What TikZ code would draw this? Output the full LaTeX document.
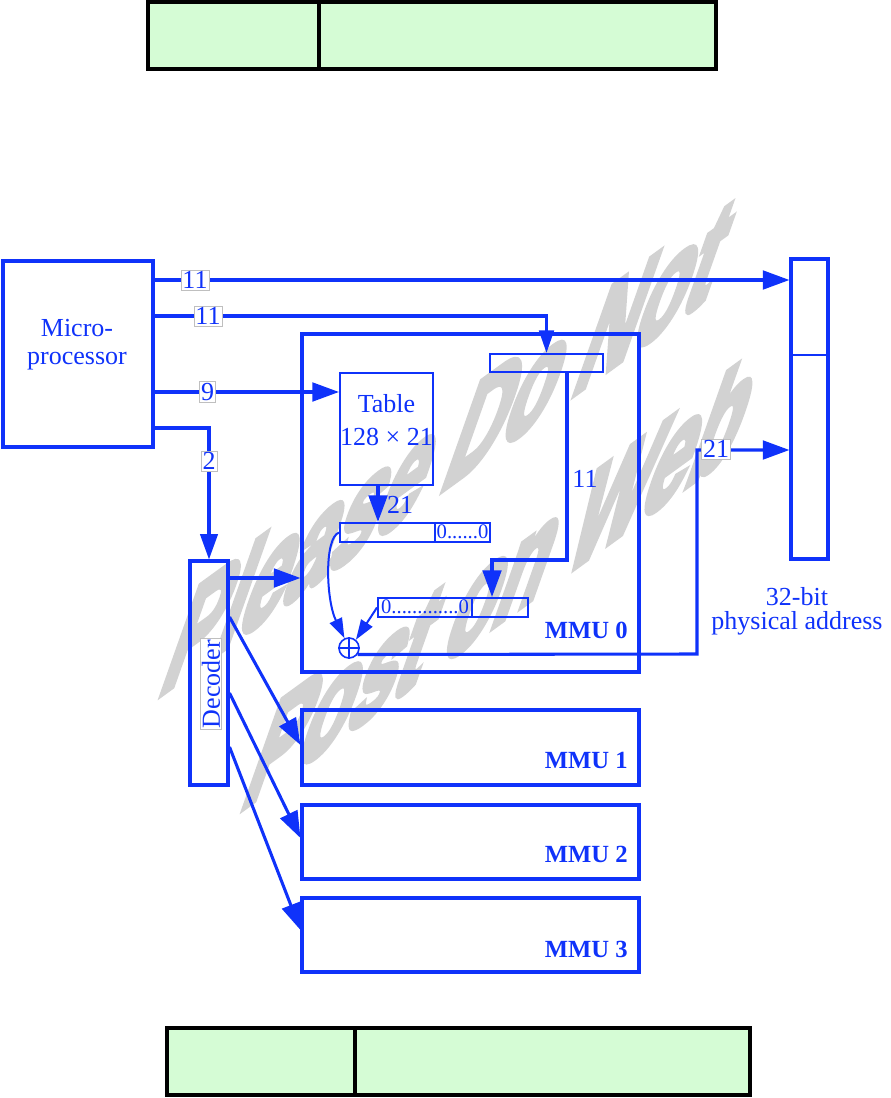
\documentclass[tikz,border=0pt]{standalone}
\usepackage{fontspec}
\setmainfont{Liberation Serif}
\newfontfamily\wmfont{Liberation Sans Bold}[FakeBold=6]
\usetikzlibrary{arrows.meta,calc}
\definecolor{bl}{RGB}{15,50,250}
\definecolor{wmc}{RGB}{210,210,210}
\definecolor{tgreen}{RGB}{213,252,213}
\tikzset{
 bx/.style={draw=bl, line width=2.3pt, inner sep=0pt},
 thinbx/.style={draw=bl, line width=1.5pt, inner sep=0pt},
 conn/.style={draw=bl, line width=2.3pt},
 thinconn/.style={draw=bl, line width=1.5pt},
 arr/.style={-{Triangle[length=20pt,width=14pt]}},
 arrsm/.style={-{Triangle[length=15pt,width=10pt]}},
 txt/.style={text=bl, inner sep=0pt},
 lab/.style={text=bl, fill=white, draw=black!25, line width=0.4pt, inner sep=1.2pt},
 tbl/.style={draw=black, line width=3pt, fill=tgreen, inner sep=0pt},
 mmulab/.style={text=bl, inner sep=0pt, anchor=base east, font=\fontsize{18.5}{20}\selectfont\bfseries},
 wmark/.style={text=wmc, inner sep=0pt, anchor=base west,
   font=\wmfont\fontsize{78}{80}\selectfont,
   cm={0.785,0.57,0.53,1.5,(0,0)}},
}
\begin{document}
\begin{tikzpicture}[x=0.75pt,y=-0.75pt,font=\fontsize{19.5}{21}\selectfont]
\useasboundingbox (0,0) rectangle (890,1098);

% watermark
\node[wmark] (wm1) at (156,698) {Please Do Not};
\node[wmark] (wm2) at (238,812) {Post on Web};

% title tables
\node[tbl, minimum width=426pt, minimum height=50.25pt] (t1) at (432,35.5) {};
\draw[line width=3pt] (t1.north -| 319,0) -- (t1.south -| 319,0);
\node[tbl, minimum width=437.25pt, minimum height=50.25pt] (t2) at (458.5,1061.5) {};
\draw[line width=3pt] (t2.north -| 355,0) -- (t2.south -| 355,0);

% boxes
\node[bx, minimum width=112.5pt, minimum height=139.5pt] (micro) at (78,354) {};
\node[txt, align=center] (microtxt) at (77,345) {Micro-\\processor};

\node[bx, minimum width=252.75pt, minimum height=253.5pt] (mmu0) at (470.5,503) {};
\node[bx, minimum width=252.75pt, minimum height=56.25pt] (mmu1) at (470.5,747.5) {};
\node[bx, minimum width=252.75pt, minimum height=55.5pt] (mmu2) at (470.5,842) {};
\node[bx, minimum width=252.75pt, minimum height=55.5pt] (mmu3) at (470.5,935) {};
\node[mmulab] (l0) at (628,638) {MMU 0};
\node[mmulab] (l1) at (628,768) {MMU 1};
\node[mmulab] (l2) at (628,862) {MMU 2};
\node[mmulab] (l3) at (628,957) {MMU 3};

\node[bx, minimum width=27.75pt, minimum height=225pt] (phys) at (809.5,409) {};
\draw[bl, line width=1pt] (phys.west |- 0,355) -- (phys.east |- 0,355);
\node[txt, align=center, font=\fontsize{19.5}{18}\selectfont] (ptxt) at (797,611) {32-bit\\physical address};

\node[bx, minimum width=28.5pt, minimum height=168pt] (dec) at (209,673) {};

\node[thinbx, minimum width=69.75pt, minimum height=84pt] (table) at (386.5,429) {};
\node[txt] (tt1) at (386.5,404) {Table};
\node[txt] (tt2) at (386.5,437) {128 × 21};

\node[thinbx, minimum width=84.75pt, minimum height=13.5pt] (reg0) at (546.5,363) {};
\node[thinbx, minimum width=112.5pt, minimum height=14.25pt] (reg1) at (415,532.5) {};
\draw[bl, line width=1.5pt] (reg1.north -| 435,0) -- (reg1.south -| 435,0);
\node[txt, font=\fontsize{15.5}{15}\selectfont] (z1) at (462.5,531.5) {0......0};
\node[thinbx, minimum width=112.5pt, minimum height=14.25pt] (reg2) at (453,607.5) {};
\draw[bl, line width=1.5pt] (reg2.north -| 472,0) -- (reg2.south -| 472,0);
\node[txt, font=\fontsize{15.5}{15}\selectfont] (z2) at (425,606.5) {0.............0};

\node[draw=bl, line width=1.2pt, circle, minimum size=15pt, inner sep=0pt] (plus) at (349,648) {};
\draw[bl, line width=0.8pt] (plus.north) -- (plus.south);
\draw[bl, line width=0.8pt] (plus.west) -- (plus.east);

% connectors
\draw[conn, arr] (micro.east |- 0,280) -- (phys.west |- 0,280);
\draw[conn, -{Triangle[length=17pt,width=11pt]}] (micro.east |- 0,316) -| (reg0.north);
\draw[conn, arr] (micro.east |- 0,392) -- (table.west |- 0,392);
\draw[conn, -{Triangle[length=19pt,width=13pt]}] (micro.east |- 0,428) -| (dec.north);
\draw[conn, arr] (table.south -| 378,0) -- (reg1.north -| 378,0);
\coordinate (b1) at (567,560);
\draw[conn, arr] (reg0.south -| b1) -- (b1) -| (reg2.north -| 492,0);
\draw[thinconn, arrsm] (reg1.west) .. controls (324,538) and (326,600) .. (plus.115);
\draw[thinconn, arrsm] (reg2.west) -- (plus.50);
\coordinate (b2) at (697,654);
\draw[conn, arr] (plus.-37) -- (b2) |- (phys.west |- 0,450);

\draw[conn, arr] (dec.east |- 0,578) -- (mmu0.west |- 0,578);
\draw[conn, arr] (dec.east |- 0,617) -- (mmu1.west |- 0,745);
\draw[conn, arr] (dec.east |- 0,693) -- (mmu2.west |- 0,838);
\draw[conn, arr] (dec.east |- 0,747) -- (mmu3.west |- 0,930);

% labels
\node[lab] (la1) at (195,280) {11};
\node[lab] (la2) at (208,316) {11};
\node[lab] (la3) at (207.5,392) {9};
\node[lab] (la4) at (209,461) {2};
\node[lab] (la5) at (716,449) {21};
\node[txt] (la6) at (585,479) {11};
\node[txt] (la7) at (400,505) {21};
\node[lab, rotate=90] (dectxt) at (211,684) {Decoder};
\end{tikzpicture}
\end{document}
